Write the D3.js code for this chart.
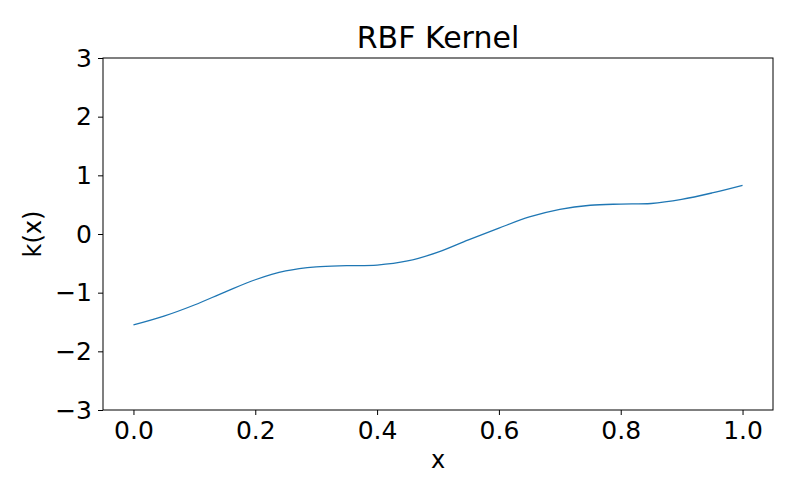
<!DOCTYPE html>
<html><head><meta charset="utf-8">
<script src="https://cdn.jsdelivr.net/npm/d3@7"></script>
<style>body{margin:0;background:#fff}text{font-family:"DejaVu Sans",sans-serif}</style>
</head><body><div id="chart"></div>
<script>
const xs = [0,0.05,0.1,0.15,0.2,0.25,0.3,0.35,0.4,0.45,0.5,0.55,0.6,0.65,0.7,0.75,0.8,0.85,0.9,0.95,1.0];
const ys = [-1.55,-1.40,-1.21,-0.99,-0.78,-0.63,-0.56,-0.54,-0.53,-0.46,-0.31,-0.10,0.10,0.29,0.42,0.49,0.51,0.52,0.59,0.70,0.83];
const xTicks = [0,0.2,0.4,0.6,0.8,1.0];
const yTicks = [-3,-2,-1,0,1,2,3];

const margin = {top: 58, right: 27, bottom: 90, left: 103},
    width = 800 - margin.left - margin.right,
    height = 500 - margin.top - margin.bottom;

const svg = d3.select("#chart").append("svg")
    .attr("width", 800).attr("height", 500)
    .append("g").attr("transform", `translate(${margin.left},${margin.top})`);

const x = d3.scaleLinear().domain([-0.05, 1.05]).range([0, width]);
const y = d3.scaleLinear().domain([-3, 3]).range([height, 0]);
const fmt = v => (v < 0 ? "\u2212" : "") + Math.abs(v);

const xa = svg.append("g").attr("transform", `translate(0,${height})`)
    .call(d3.axisBottom(x).tickValues(xTicks).tickFormat(d3.format(".1f")).tickSizeOuter(0).tickSize(5).tickPadding(6));
const ya = svg.append("g")
    .call(d3.axisLeft(y).tickValues(yTicks).tickFormat(fmt).tickSizeOuter(0).tickSize(5).tickPadding(6));
[xa, ya].forEach(a => {
    a.attr("font-size", 25).attr("font-family", "DejaVu Sans");
    a.selectAll("text").attr("fill", "#000");
    a.selectAll("line").attr("stroke", "#000");
    a.select(".domain").remove();
});
svg.append("rect").attr("width", width).attr("height", height)
    .attr("fill", "none").attr("stroke", "#000").attr("stroke-width", 1);

svg.append("path").datum(xs.map((v, i) => [v, ys[i]]))
    .attr("fill", "none").attr("stroke", "#1f77b4").attr("stroke-width", 1.3)
    .attr("d", d3.line().x(d => x(d[0])).y(d => y(d[1])).curve(d3.curveCatmullRom));

svg.append("text").attr("x", width/2).attr("y", -10).attr("text-anchor", "middle")
    .attr("font-size", 30).text("RBF Kernel");
svg.append("text").attr("x", width/2).attr("y", height + 58).attr("text-anchor", "middle")
    .attr("font-size", 24).text("x");
svg.append("text").attr("transform", `translate(-62,${height/2}) rotate(-90)`).attr("text-anchor", "middle")
    .attr("font-size", 24).text("k(x)");
</script></body></html>
